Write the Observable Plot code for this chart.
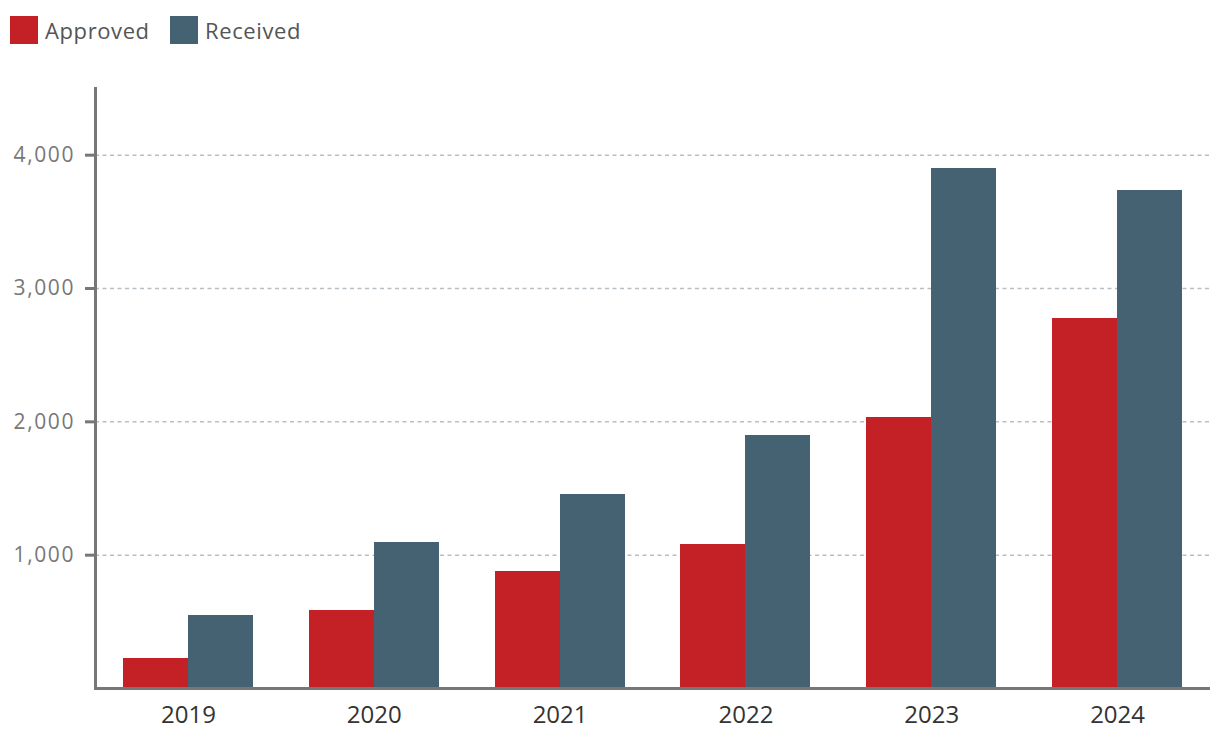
<!DOCTYPE html>
<html>
<head>
<meta charset="utf-8">
<script src="https://cdn.jsdelivr.net/npm/d3@7"></script>
<script src="https://cdn.jsdelivr.net/npm/@observablehq/plot@0.6"></script>
<style>
  html, body { margin: 0; padding: 0; background: #fff; }
  body { width: 1220px; height: 742px; position: relative; overflow: hidden; font-family: "Open Sans", sans-serif; }
  #legend { position: absolute; left: 0; top: 0; width: 1220px; height: 60px; z-index: 2; }
  .sw { position: absolute; top: 16px; width: 28px; height: 28px; }
  .lb { position: absolute; top: 14px; font-size: 22px; line-height: 32px; color: #555; letter-spacing: 0.6px; }
  #chart { position: absolute; left: 0; top: 0; }
  #chart g[aria-label="y-axis tick label"] text { letter-spacing: 1.6px; }
</style>
</head>
<body>
<div id="legend"></div>
<div id="chart"></div>
<script>
const years = ["2019", "2020", "2021", "2022", "2023", "2024"];
const approved = [227, 585, 878, 1080, 2033, 2775];
const received = [547, 1095, 1455, 1898, 3900, 3735];
const seriesNames = ["Approved", "Received"];
const seriesColors = ["#c42127", "#456272"];
const yTicks = [1000, 2000, 3000, 4000];

const rows = [];
years.forEach((yr, i) => {
  rows.push({year: yr, series: seriesNames[0], value: approved[i]});
  rows.push({year: yr, series: seriesNames[1], value: received[i]});
});

// legend
const legend = document.getElementById("legend");
const legendPos = [{sw: 10, lb: 45}, {sw: 170, lb: 205}];
seriesNames.forEach((name, i) => {
  const s = document.createElement("div");
  s.className = "sw";
  s.style.left = legendPos[i].sw + "px";
  s.style.background = seriesColors[i];
  legend.appendChild(s);
  const t = document.createElement("div");
  t.className = "lb";
  t.style.left = legendPos[i].lb + "px";
  t.textContent = name;
  legend.appendChild(t);
});

const chart = Plot.plot({
  width: 1220,
  height: 742,
  marginTop: 88,
  marginBottom: 54,
  marginLeft: 95,
  marginRight: 10,
  style: {fontFamily: "'Open Sans', sans-serif", background: "transparent"},
  x: {type: "band", domain: years, paddingInner: 0.3, paddingOuter: 0.15, round: false, label: null},
  y: {domain: [0, 4500], label: null},
  marks: [
    Plot.ruleY(yTicks, {stroke: "#b7bfc5", strokeWidth: 1.5, strokeDasharray: "4,3.5"}),
    Plot.barY(rows.filter(d => d.series === seriesNames[0]), {x: "year", y: "value", fill: seriesColors[0], insetRight: 65, shapeRendering: "crispEdges"}),
    Plot.barY(rows.filter(d => d.series === seriesNames[1]), {x: "year", y: "value", fill: seriesColors[1], insetLeft: 65, shapeRendering: "crispEdges"}),
    Plot.ruleY([0], {stroke: "#777", strokeWidth: 3}),
    Plot.frame({anchor: "left", stroke: "#777", strokeWidth: 3}),
    Plot.axisY({ticks: yTicks, tickFormat: d3.format(","), tickSize: 10, tickPadding: 10.5, strokeWidth: 3, fontSize: 21, color: "#777", label: null}),
    Plot.axisX({tickSize: 0, tickPadding: 17, fontSize: 24, color: "#333", label: null})
  ]
});
document.getElementById("chart").appendChild(chart);
</script>
</body>
</html>
